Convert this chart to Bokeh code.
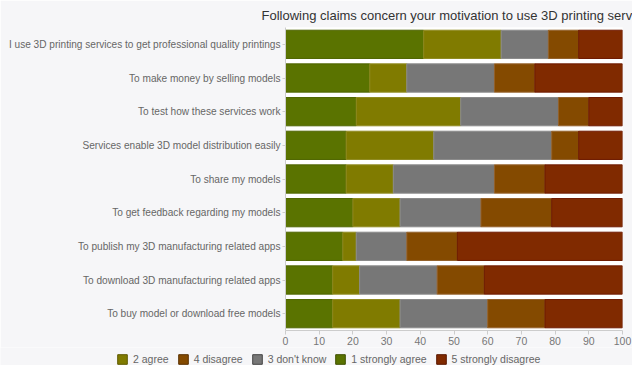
from bokeh.plotting import figure
from bokeh.models import ColumnDataSource, FactorRange, Range1d, FixedTicker, Legend, LegendItem
from bokeh.embed import file_html
from bokeh.resources import INLINE

categories = [
    "I use 3D printing services to get professional quality printings",
    "To make money by selling models",
    "To test how these services work",
    "Services enable 3D model distribution easily",
    "To share my models",
    "To get feedback regarding my models",
    "To publish my 3D manufacturing related apps",
    "To download 3D manufacturing related apps",
    "To buy model or download free models",
]
strongly_agree = [41, 25, 21, 18, 18, 20, 17, 14, 14]
agree = [23, 11, 31, 26, 14, 14, 4, 8, 20]
dont_know = [14, 26, 29, 35, 30, 24, 15, 23, 26]
disagree = [9, 12, 9, 8, 15, 21, 15, 14, 17]
strongly_disagree = [13, 26, 10, 13, 23, 21, 49, 41, 23]
x_ticks = [0, 10, 20, 30, 40, 50, 60, 70, 80, 90, 100]
title_text = "Following claims concern your motivation to use 3D printing services"

keys = ["sa", "a", "dk", "d", "sd"]
labels = {"sa": "1 strongly agree", "a": "2 agree", "dk": "3 don't know",
          "d": "4 disagree", "sd": "5 strongly disagree"}
colors = {"sa": "#5a7300", "a": "#807b00", "dk": "#777777", "d": "#844a00", "sd": "#802a00"}
lines = {"sa": "#4f6500", "a": "#8f8a20", "dk": "#8a8a8a", "d": "#93602a", "sd": "#6e1a00"}
legend_lines = {"sa": "#3f5000", "a": "#5f5b00", "dk": "#444444", "d": "#5a3000", "sd": "#5a1800"}

source = ColumnDataSource(dict(cat=categories, sa=strongly_agree, a=agree,
                               dk=dont_know, d=disagree, sd=strongly_disagree))

FONT = "Liberation Sans"
BG = "#f6f6f8"
p = figure(width=632, height=347, output_backend="svg", toolbar_location=None,
           y_range=FactorRange(factors=list(reversed(categories)), range_padding=0),
           x_range=Range1d(0, 100),
           min_border_left=285, min_border_right=10, min_border_top=23, min_border_bottom=17)
p.background_fill_color = "#ffffff"
p.border_fill_color = BG
p.outline_line_color = None

p.hbar_stack(keys, y="cat", height=0.84, source=source,
             color=[colors[k] for k in keys],
             line_color=[lines[k] for k in keys], line_width=1)

p.title.text = title_text
p.title.text_font = FONT
p.title.text_font_size = "13px"
p.title.text_font_style = "normal"
p.title.text_color = "#333333"
p.title.align = "left"
p.title.offset = -24

p.xaxis.ticker = FixedTicker(ticks=x_ticks)
p.xaxis.major_label_text_font = FONT
p.xaxis.major_label_text_font_size = "10.5px"
p.xaxis.major_label_text_color = "#777777"
p.xaxis.axis_line_color = "#cccccc"
p.xaxis.major_tick_line_color = "#cccccc"
p.xaxis.major_tick_in = 0
p.xaxis.major_tick_out = 4
p.xaxis.minor_tick_line_color = None
p.xaxis.major_label_standoff = 2

p.yaxis.major_label_text_font = FONT
p.yaxis.major_label_text_font_size = "10.1px"
p.yaxis.major_label_text_color = "#666666"
p.yaxis.axis_line_color = "#cccccc"
p.yaxis.major_tick_line_color = "#cccccc"
p.yaxis.major_tick_in = 0
p.yaxis.major_tick_out = 3
p.yaxis.major_label_standoff = 2

p.xgrid.grid_line_color = None
p.ygrid.grid_line_color = None

# legend strip below the chart (separate root, so its frame spans the full width)
lg = figure(width=632, height=18, output_backend="svg", toolbar_location=None,
            x_range=Range1d(0, 1), y_range=Range1d(0, 1),
            min_border_left=0, min_border_right=0, min_border_top=0, min_border_bottom=0)
lg.axis.visible = False
lg.grid.grid_line_color = None
lg.outline_line_color = None
lg.background_fill_color = BG
lg.border_fill_color = BG

order = ["a", "d", "dk", "sa", "sd"]
items = []
for k in order:
    r = lg.rect(x=[-5], y=[-5], width=0.1, height=0.1, fill_color=colors[k],
                line_color=legend_lines[k], line_width=1)
    items.append(LegendItem(label=labels[k], renderers=[r]))
legend = Legend(items=items, orientation="horizontal", location=(116, 0),
                label_text_font=FONT, label_text_font_size="10.5px", label_text_color="#666666",
                glyph_width=12, glyph_height=12, spacing=8, padding=2, margin=0,
                background_fill_alpha=0, border_line_color=None, label_standoff=5)
lg.add_layout(legend)

open("out.html", "w").write(file_html([p, lg], INLINE))
